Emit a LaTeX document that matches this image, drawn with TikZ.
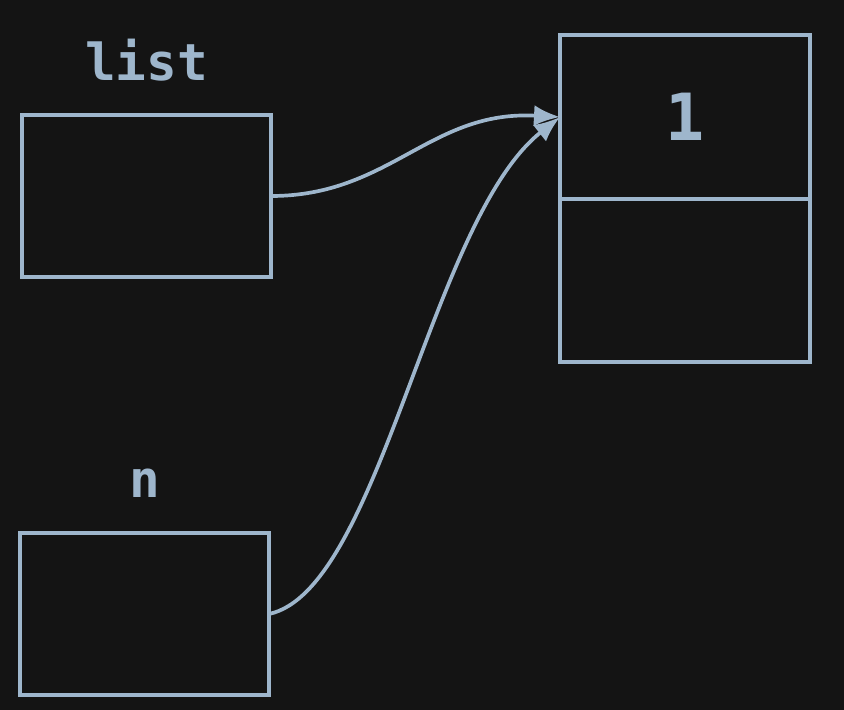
\documentclass[tikz,border=0pt]{standalone}
\usepackage{fontspec}
\setmonofont{DejaVu Sans Mono}
\usetikzlibrary{positioning, arrows.meta}
\definecolor{chalk}{RGB}{158,182,204}
\definecolor{board}{RGB}{20,20,20}
\begin{document}
\begin{tikzpicture}[line width=2.1pt,
  cell/.style={draw=chalk,minimum width=4.98cm,minimum height=3.24cm,inner sep=0pt,outer sep=0pt},
  lbl/.style={text=chalk,font=\ttfamily\bfseries\fontsize{29}{30}\selectfont,inner sep=0pt},
  ptr/.style={draw=chalk,-{Latex[length=0.52cm,width=0.42cm]}}]
  \fill[board] (0,0) rectangle (16.88,-14.2);
  \useasboundingbox (0,0) rectangle (16.88,-14.2);
  \path (2.93,-3.92) node[cell] (lst) {} (2.89,-12.28) node[cell] (n) {}
  (13.70,-2.34) node[cell,minimum width=5cm,minimum height=3.28cm,lbl,font=\ttfamily\bfseries\fontsize{37}{38}\selectfont] (val) {1};
  \node[cell,minimum width=5cm,minimum height=3.26cm,below=0pt of val] (nxt) {};
  \node[lbl,above=0.7cm of lst.north,anchor=base] {list};
  \node[lbl,above=0.72cm of n.north,anchor=base] {n};
  \draw[ptr] (lst.east) .. controls (7.8,-3.92) and (8.6,-2.2) .. (val.west);
  \draw[ptr] (n.east) .. controls (7.6,-11.8) and (8.6,-4.4) .. (val.west);
\end{tikzpicture}
\end{document}
